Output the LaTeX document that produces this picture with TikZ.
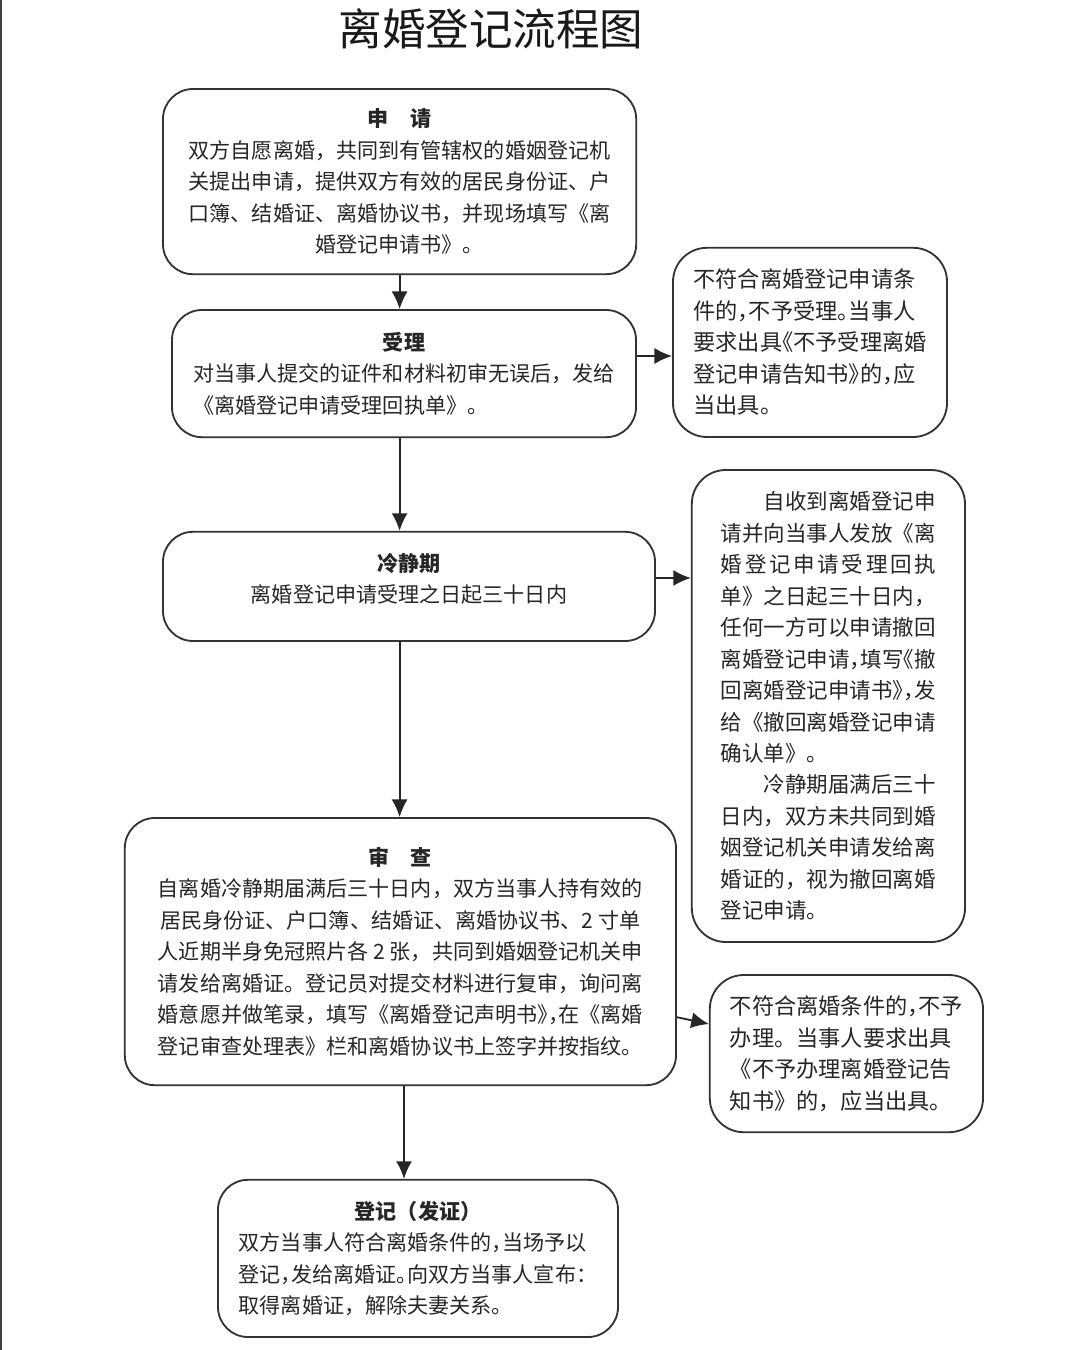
\documentclass[tikz,border=0pt]{standalone}
\usepackage{fontspec}
\setmainfont{Noto Sans CJK SC}
\usepackage{tikz}
\usetikzlibrary{arrows,arrows.meta,positioning}
% half-width punctuation
\newcommand\hw[1]{{\addfontfeature{RawFeature=+halt}#1}}
\tikzset{
  flowbox/.style={draw=black!80, line width=1.3pt, rectangle, rounded corners=0.75cm, align=center, text=black!85, inner sep=0pt, font=\fontsize{15pt}{22.4pt}\selectfont},
  sidebox/.style={flowbox, rounded corners=0.85cm, align=left, font=\fontsize{15.8pt}{22.4pt}\selectfont},
  arr/.style={-{Latex[length=4.4mm,width=4mm]}, line width=1.3pt, draw=black!85}
}

\begin{document}
\begin{tikzpicture}
        \fill[white] (0,0) rectangle (27,-33.75);
        \useasboundingbox (0,0) rectangle (27,-33.75);
        \draw[line width=1.4pt, black!75] (0.025,0) -- (0.025,-33.75);

        % Title
        \node[font=\fontsize{31pt}{36pt}\selectfont, text=black!90] (title) at (12.275,-0.725) {离婚登记流程图};

        % Main flow on the left
        \node[flowbox, minimum width=11.83cm, minimum height=4.63cm] (apply) at (9.99,-4.54) {\textbf{申\hspace{1em}请}\\双方自愿离婚，共同到有管辖权的婚姻登记机\\关提出申请，提供双方有效的居民身份证、户\\口簿、结婚证、离婚协议书，并现场填写《离\\婚登记申请书》。};

        \node[flowbox, align=left, minimum width=11.6cm, minimum height=3.18cm] (accept) at (10.1,-9.34) {\makebox[20em][c]{\textbf{受理}}\\对当事人提交的证件和材料初审无误后，发给\\《离婚登记申请受理回执单》。};

        \node[flowbox, minimum width=12.3cm, minimum height=2.73cm] (cool) at (10.225,-14.66) {\textbf{冷静期}\\离婚登记申请受理之日起三十日内\\[-10pt]\mbox{}};

        \node[flowbox, minimum width=13.78cm, minimum height=6.68cm] (review) at (10.01,-23.79) {\textbf{审\hspace{1em}查}\\自离婚冷静期届满后三十日内，双方当事人持有效的\\居民身份证、户口簿、结婚证、离婚协议书、2 寸单\\人近期半身免冠照片各 2 张，共同到婚姻登记机关申\\请发给离婚证。登记员对提交材料进行复审，询问离\\婚意愿并做笔录，填写《离婚登记声明书\hw{》，}在《离婚\\登记审查处理表》栏和离婚协议书上签字并按指纹。};

        \node[flowbox, align=left, minimum width=10cm, minimum height=3.93cm] (register) at (10.45,-31.46) {\makebox[17em][c]{\textbf{登记（发证）}}\\双方当事人符合离婚条件的\hw{，}当场予以\\登记\hw{，}发给离婚证\hw{。}向双方当事人宣布：\\取得离婚证，解除夫妻关系。};

        % Side notes on the right
        \node[sidebox, minimum width=6.85cm, minimum height=4.73cm] (reject1) at (20.25,-8.56) {不符合离婚登记申请条\\件的\hw{，}不予受理\hw{。}当事人\\要求出具\hw{《}不予受理离婚\\登记申请告知书\hw{》}的\hw{，}应\\当出具。};

        \node[sidebox, font=\fontsize{15.3pt}{22.4pt}\selectfont, minimum width=6.83cm, minimum height=11.8cm] (withdraw) at (20.71,-17.65) {\hspace*{2em}自收到离婚登记申\\请并向当事人发放《离\\\makebox[10em][s]{婚\hfill 登\hfill 记\hfill 申\hfill 请\hfill 受\hfill 理\hfill 回\hfill 执}\\单》之日起三十日内，\\任何一方可以申请撤回\\离婚登记申请\hw{，}填写\hw{《}撤\\回离婚登记申请书\hw{》，}发\\给《撤回离婚登记申请\\确认单》。\\\hspace*{2em}冷静期届满后三十\\日内，双方未共同到婚\\姻登记机关申请发给离\\婚证的，视为撤回离婚\\登记申请。};

        \node[sidebox, minimum width=6.83cm, minimum height=3.93cm] (reject2) at (21.16,-26.34) {不符合离婚条件的\hw{，}不予\\办理。当事人要求出具\\《不予办理离婚登记告\\知书》的，应当出具。};

        % Connect the nodes
        \draw[arr] (apply.south) -- (apply.south |- accept.north);
        \draw[arr] (accept.south -| apply.south) -- (cool.north -| apply.south);
        \draw[arr] (cool.south -| apply.south) -- (review.north -| apply.south);
        \draw[arr] ([xshift=0.09cm]review.south) -- ([xshift=0.09cm]review.south |- register.north);

        \draw[arr] ([yshift=0.44cm]accept.east) -- ([yshift=0.44cm]accept.east -| reject1.west);
        \draw[arr] ([yshift=0.21cm]cool.east) -- ([yshift=0.21cm]cool.east -| withdraw.west);
        \draw[arr] ([yshift=-1.64cm]review.east) -- ([yshift=0.74cm]reject2.west);
    \end{tikzpicture}
\end{document}
